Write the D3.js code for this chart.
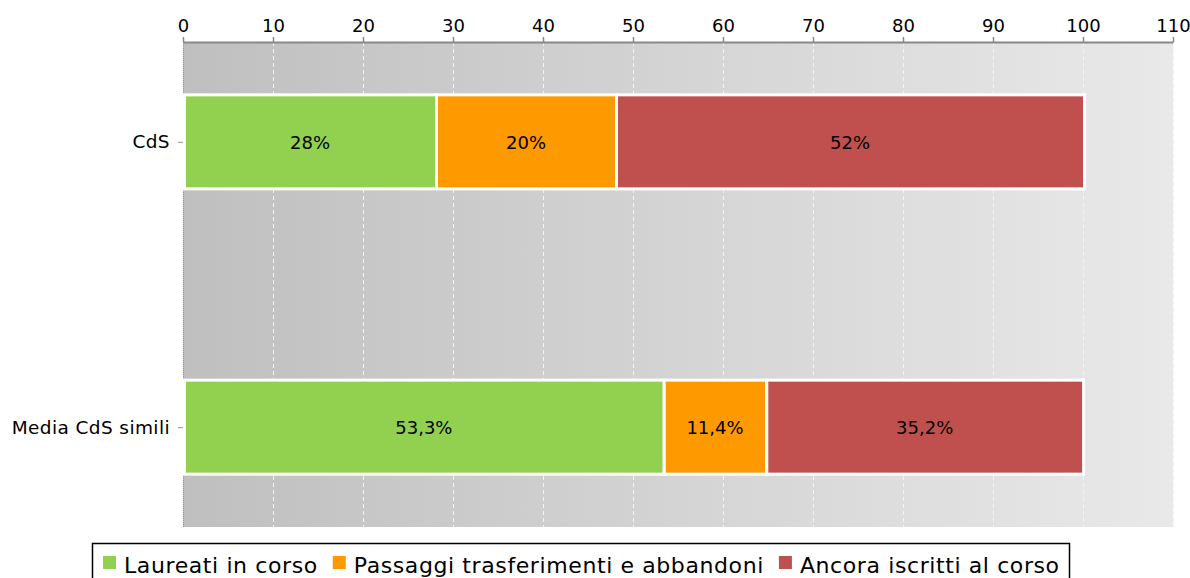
<!DOCTYPE html>
<html>
<head>
<meta charset="utf-8">
<script src="https://cdn.jsdelivr.net/npm/d3@7"></script>
<style>
	body { margin: 0; background: #fff; }
	svg { display: block; font-family: "DejaVu Sans", sans-serif; }
</style>
</head>
<body>
<div id="chart"></div>
<script>
// categories and series
var categories = ["CdS", "Media CdS simili"];
var seriesNames = ["Laureati in corso", "Passaggi trasferimenti e abbandoni", "Ancora iscritti al corso"];
var seriesColors = ["#92d050", "#ff9900", "#c0504d"];
var laureati = [28, 53.3];
var passaggi = [20, 11.4];
var ancora = [52, 35.2];
var labels = [["28%", "20%", "52%"], ["53,3%", "11,4%", "35,2%"]];
var xTicks = [0, 10, 20, 30, 40, 50, 60, 70, 80, 90, 100, 110];

var size = { width: 1190, height: 578 };
var plot = { left: 183, right: 1173, top: 42, bottom: 527 };

var svg = d3.select("#chart").append("svg")
	.attr("width", size.width)
	.attr("height", size.height);

var xScale = d3.scaleLinear()
	.domain([0, 110])
	.range([plot.left, plot.right]);

var yScale = d3.scalePoint()
	.domain(categories)
	.range([plot.top, plot.bottom])
	.padding(0.35);

var barHeight = 97;

// background gradient
var defs = svg.append("defs");
var grad = defs.append("linearGradient")
	.attr("id", "bg")
	.attr("x1", "0%").attr("x2", "100%")
	.attr("y1", "0%").attr("y2", "0%");
grad.append("stop").attr("offset", "0%").attr("stop-color", "#bfbfbf");
grad.append("stop").attr("offset", "100%").attr("stop-color", "#e9e9e9");

svg.append("rect")
	.attr("x", plot.left)
	.attr("y", plot.top)
	.attr("width", plot.right - plot.left)
	.attr("height", plot.bottom - plot.top)
	.attr("fill", "url(#bg)");

// grid lines
svg.append("g").selectAll("line")
	.data(xTicks.slice(1))
	.enter()
	.append("line")
	.attr("x1", function(d) { return xScale(d) + 0.5; })
	.attr("x2", function(d) { return xScale(d) + 0.5; })
	.attr("y1", plot.top)
	.attr("y2", plot.bottom)
	.attr("stroke", "#f4f4f4")
	.attr("stroke-width", 1)
	.attr("stroke-dasharray", "4,3");

// left dotted axis line
svg.append("line")
	.attr("x1", plot.left + 0.5).attr("x2", plot.left + 0.5)
	.attr("y1", plot.top).attr("y2", plot.bottom)
	.attr("stroke", "#999")
	.attr("stroke-dasharray", "1,1");

// top axis
var x_axis = d3.axisTop(xScale)
	.tickValues(xTicks)
	.tickSize(5)
	.tickSizeOuter(0)
	.tickPadding(5);

var xg = svg.append("g")
	.attr("transform", "translate(0," + plot.top + ")")
	.call(x_axis);
xg.select(".domain").attr("stroke", "#888").attr("stroke-width", 2);
xg.selectAll(".tick line").attr("stroke", "#888").attr("stroke-width", 1.5);
xg.selectAll(".tick text")
	.attr("fill", "#000")
	.style("font-size", "18px")
	.style("font-family", "DejaVu Sans, sans-serif");

// left axis ticks and labels
var y_axis = d3.axisLeft(yScale)
	.tickSize(5)
	.tickSizeOuter(0)
	.tickPadding(8);
var yg = svg.append("g")
	.attr("transform", "translate(" + plot.left + ",0)")
	.call(y_axis);
yg.select(".domain").remove();
yg.selectAll(".tick line").attr("stroke", "#999");
yg.selectAll(".tick text")
	.attr("fill", "#000")
	.style("font-size", "18.5px")
	.style("letter-spacing", "0.4px")
	.style("font-family", "DejaVu Sans, sans-serif");

// stacked data
var table = categories.map(function(c, i) {
	return { cat: c, v: [laureati[i], passaggi[i], ancora[i]] };
});

var barGroup = svg.append("g");
table.forEach(function(row, i) {
	var start = 0;
	row.v.forEach(function(val, j) {
		var x0 = xScale(start);
		var x1 = xScale(start + val);
		var yc = yScale(row.cat);
		barGroup.append("rect")
			.attr("x", x0 + 1.5)
			.attr("y", yc - barHeight / 2 + 1.5)
			.attr("width", x1 - x0)
			.attr("height", barHeight - 3)
			.attr("fill", seriesColors[j])
			.attr("stroke", "#fff")
			.attr("stroke-width", 3);
		barGroup.append("text")
			.attr("x", (x0 + x1) / 2 + 1)
			.attr("y", yc + 7)
			.attr("text-anchor", "middle")
			.style("font-size", "18px")
			.text(labels[i][j]);
		start += val;
	});
});

// legend
var legend = svg.append("g");
legend.append("rect")
	.attr("x", 92.5)
	.attr("y", 543.5)
	.attr("width", 977)
	.attr("height", 50)
	.attr("fill", "#fff")
	.attr("stroke", "#000")
	.attr("stroke-width", 1.5);

var lx = 103;
seriesNames.forEach(function(name, i) {
	legend.append("rect")
		.attr("x", lx)
		.attr("y", 556)
		.attr("width", 13)
		.attr("height", 13)
		.attr("fill", seriesColors[i]);
	var t = legend.append("text")
		.attr("x", lx + 21)
		.attr("y", 573)
		.style("font-size", "22px")
		.style("letter-spacing", "0.6px")
		.text(name);
	lx += 21 + t.node().getComputedTextLength() + 15;
});
</script>
</body>
</html>
